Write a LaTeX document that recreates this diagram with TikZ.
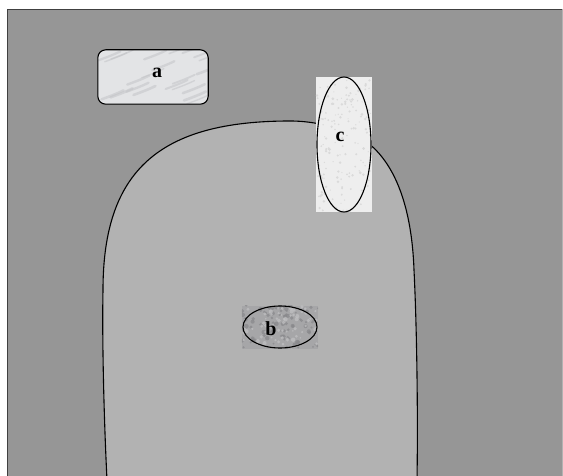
\documentclass[tikz,border=0pt]{standalone}
\usepackage{fontspec}
\setmainfont{Liberation Serif}
\usetikzlibrary{shapes.geometric}
\definecolor{bgdark}{HTML}{969696}
\definecolor{blobgray}{HTML}{B2B2B2}
\definecolor{framegray}{HTML}{404040}
\definecolor{texa}{HTML}{E3E4E6}
\definecolor{texastreak}{HTML}{C4C5C8}
\definecolor{texc}{HTML}{EEEEEE}
\definecolor{texcdot}{HTML}{DADADA}
\definecolor{texb}{HTML}{A6A6A8}
\definecolor{texbdark}{HTML}{88888B}
\definecolor{texblight}{HTML}{C2C2C4}
\tikzset{
  lbl/.style={font=\fontsize{20}{24}\selectfont\bfseries, inner sep=0pt},
  outline/.style={draw=black, line width=1.1pt},
  texbox/.style={rectangle, inner sep=0pt, draw=none}
}
\begin{document}
\begin{tikzpicture}[x=1pt,y=-1pt]
\useasboundingbox (0,0) rectangle (563,476);
\clip (0,0) rectangle (563,476);
\pgfmathsetseed{7}
% background panel
\fill[bgdark] (7.5,9.5) rectangle (562,480);
\draw[framegray, line width=1.6pt] (7.5,480) -- (7.5,9.5) -- (562,9.5);
\draw[gray!60, line width=0.8pt] (562,9.5) -- (562,480);
% blob
\def\blobpath{(107,480) .. controls (104,420) and (102,340) .. (103,290)
  .. controls (103,170) and (160,121) .. (290,121)
  .. controls (310,121) and (328,125) .. (345,131)
  .. controls (382,142) and (411,185) .. (414,270)
  .. controls (417,330) and (418,420) .. (417,480)}
\fill[blobgray] \blobpath -- cycle;
\draw[outline] \blobpath;
% node a (marble texture)
\node[rectangle, rounded corners=8pt, fill=texa, minimum width=110pt, minimum height=54pt, inner sep=0pt] (abox) at (153,77) {};
\begin{scope}
  \clip[rounded corners=8pt] (abox.south west) rectangle (abox.north east);
  \foreach \i in {1,...,22} {
    \pgfmathsetmacro{\sx}{98+110*rnd}
    \pgfmathsetmacro{\sy}{50+54*rnd}
    \draw[texastreak, line width=1.2pt+1.5pt*rnd, opacity=0.55, line cap=round]
      (\sx,\sy) .. controls +(8,-3) and +(-8,4) .. +(22,-9);
  }
\end{scope}
\draw[outline, rounded corners=8pt] (abox.south west) rectangle (abox.north east);
\node[lbl] (a) at (157,73) {a};
% node c (fine speckle)
\node[texbox, fill=texc, minimum width=56pt, minimum height=135pt] (cbox) at (344,144.5) {};
\begin{scope}
  \clip (cbox.south west) rectangle (cbox.north east);
  \foreach \i in {1,...,160} {
    \fill[texcdot] (317+54*rnd, 78+134*rnd) circle (0.6+0.9*rnd);
  }
\end{scope}
\draw[outline] (cbox.center) ellipse [x radius=27, y radius=67.5];
\node[lbl] (c) at (340,137) {c};
% node b (mottled texture)
\node[texbox, fill=texb, minimum width=76pt, minimum height=43pt] (bbox) at (280,327) {};
\begin{scope}
  \clip (bbox.south west) rectangle (bbox.north east);
  \foreach \i in {1,...,90} {
    \fill[texbdark, opacity=0.7] (242+76*rnd, 305+43*rnd) circle (0.8+1.6*rnd);
  }
  \foreach \i in {1,...,70} {
    \fill[texblight, opacity=0.7] (242+76*rnd, 305+43*rnd) circle (0.8+1.4*rnd);
  }
\end{scope}
\draw[outline] (bbox.center) ellipse [x radius=37, y radius=21];
\node[lbl] (b) at (271,329) {b};
\end{tikzpicture}
\end{document}
